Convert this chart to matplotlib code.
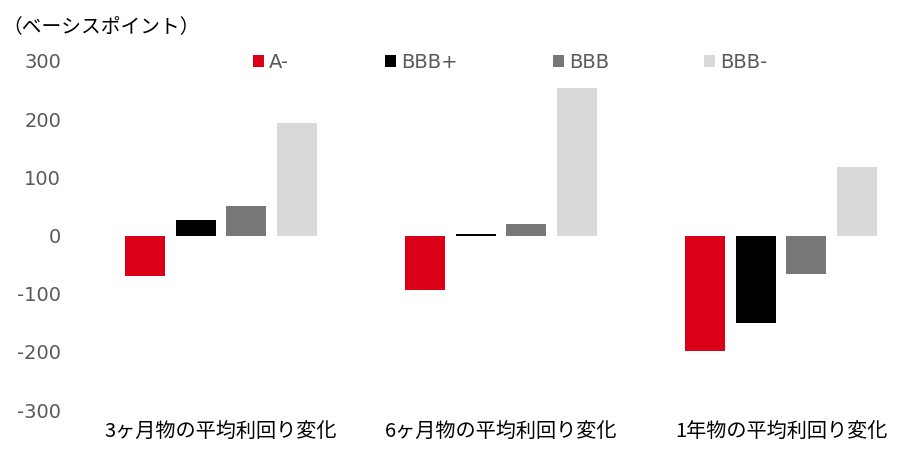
import matplotlib
matplotlib.use("Agg")
import matplotlib.pyplot as plt
import numpy as np

plt.rcParams['font.family'] = ['DejaVu Sans', 'Noto Sans CJK JP']

categories = ['3ヶ月物の平均利回り変化', '6ヶ月物の平均利回り変化', '1年物の平均利回り変化']
series = ['A-', 'BBB+', 'BBB', 'BBB-']
a_minus = [-69, -93, -198]
bbb_plus = [27, 3, -150]
bbb = [51, 20, -66]
bbb_minus = [194, 254, 118]
colors = ['#DA0017', '#000000', '#777777', '#D9D9D9']
yticks = [-300, -200, -100, 0, 100, 200, 300]

fig = plt.figure(figsize=(9.11, 4.70), dpi=100)
ax = fig.add_axes([100/911, 60/470, 800/911, 349/470])

x = np.arange(len(categories))
offsets = [-0.27, -0.09, 0.09, 0.27]
width = 0.143
for vals, off, c, name in zip([a_minus, bbb_plus, bbb, bbb_minus], offsets, colors, series):
    ax.bar(x + off, vals, width, color=c, label=name)

ax.set_xlim(-0.432, 2.425)
ax.set_ylim(-300, 300)
ax.set_yticks(yticks)
ax.set_yticklabels([str(t) for t in yticks], color='#595959', fontsize=14)
ax.tick_params(axis='y', length=0, pad=28)
ax.set_xticks(x)
ax.set_xticklabels(categories, fontsize=14.5, family=['Noto Sans CJK JP'])
ax.tick_params(axis='x', length=0, pad=8)
for s in ax.spines.values():
    s.set_visible(False)

leg = ax.legend(loc='center left', bbox_to_anchor=(153/800, 0.997), ncol=4, frameon=False,
                fontsize=14, handlelength=0.57, handleheight=0.57, handletextpad=0.26,
                columnspacing=4.9, labelcolor='#595959', borderpad=0, borderaxespad=0)

fig.text(2/911, 1 - 28/470, '（ベーシスポイント）', fontsize=14.2, va='center', ha='left',
         family=['Noto Sans CJK JP'])

fig.savefig('out.png', dpi=100)
